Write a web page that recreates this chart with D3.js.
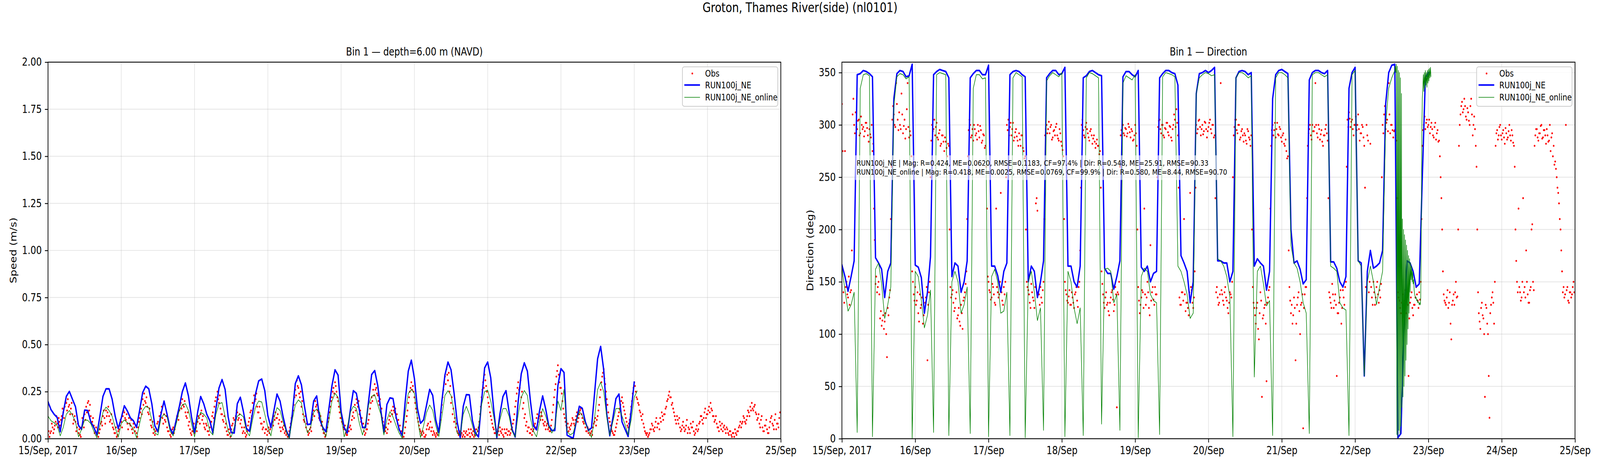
<!DOCTYPE html>
<html>
<head>
<meta charset="utf-8">
<script src="https://cdn.jsdelivr.net/npm/d3@7"></script>
<style>
html, body { margin: 0; padding: 0; background: #fff; overflow: hidden; }
svg { display: block; width: 100vw; height: 100vh; }
text { font-family: "DejaVu Sans", sans-serif; }
</style>
</head>
<body>
<svg id="chart"></svg>
<script>
var figTitle = "Groton, Thames River(side) (nl0101)";
var speedTitle = "Bin 1 \u2014 depth=6.00 m (NAVD)";
var dirTitle = "Bin 1 \u2014 Direction";
var seriesNames = ["Obs", "RUN100j_NE", "RUN100j_NE_online"];
var dayLabels = ["15/Sep, 2017", "16/Sep", "17/Sep", "18/Sep", "19/Sep", "20/Sep",
                 "21/Sep", "22/Sep", "23/Sep", "24/Sep", "25/Sep"];
var speedTicks = [0, 0.25, 0.5, 0.75, 1, 1.25, 1.5, 1.75, 2];
var dirTicks = [0, 50, 100, 150, 200, 250, 300, 350];
var statLines = [
  "RUN100j_NE | Mag: R=0.424, ME=0.0620, RMSE=0.1183, CF=97.4% | Dir: R=0.548, ME=25.91, RMSE=90.33",
  "RUN100j_NE_online | Mag: R=0.418, ME=0.0025, RMSE=0.0769, CF=99.9% | Dir: R=0.580, ME=8.44, RMSE=90.70"
];

// model speed, hourly from 15/Sep 00:00 (m/s)
var neSpeed = [
  .196,.154,.130,.113,.037,.140,.225,.251,.210,.170,
  .070,.050,.152,.150,.090,.060,.022,.120,.225,.265,
  .265,.210,.120,.054,.110,.175,.147,.110,.095,.060,
  .150,.245,.279,.265,.186,.068,.037,.130,.200,.130,
  .054,.026,.100,.170,.250,.296,.227,.116,.033,.140,
  .224,.186,.130,.095,.030,.160,.269,.314,.262,.116,
  .033,.030,.186,.220,.144,.054,.040,.137,.240,.307,
  .317,.255,.123,.060,.150,.237,.200,.116,.047,.006,
  .130,.293,.334,.286,.172,.075,.078,.200,.227,.102,
  .060,.037,.160,.282,.366,.338,.144,.060,.030,.150,
  .255,.241,.150,.060,.060,.200,.341,.362,.282,.151,
  .033,.182,.217,.213,.116,.050,.016,.200,.359,.417,
  .320,.160,.082,.100,.180,.262,.230,.100,.033,.200,
  .338,.407,.366,.241,.090,.006,.172,.234,.233,.096,
  .030,.009,.200,.376,.407,.324,.150,.006,.130,.224,
  .255,.144,.050,.009,.200,.345,.403,.359,.200,.068,
  .047,.150,.227,.158,.070,.044,.044,.282,.372,.352,
  .019,.010,.002,.090,.172,.161,.089,.044,.057,.240,
  .424,.490,.366,.130,.016,.110,.213,.237,.089,.050,
  .012,.150,.300
];
var onlineSpeed = [
  .120,.095,.085,.070,.015,.060,.130,.150,.125,.090,
  .010,.050,.100,.098,.080,.040,.005,.070,.140,.168,
  .150,.120,.060,.008,.080,.100,.085,.075,.050,.005,
  .080,.150,.172,.165,.100,.030,.020,.110,.130,.116,
  .040,.015,.080,.150,.180,.186,.150,.080,.010,.100,
  .140,.130,.110,.040,.020,.130,.185,.192,.120,.040,
  .010,.060,.120,.130,.116,.040,.015,.100,.170,.200,
  .195,.130,.060,.015,.110,.165,.150,.090,.040,.003,
  .100,.180,.206,.190,.100,.030,.060,.140,.158,.140,
  .050,.010,.100,.200,.241,.220,.120,.010,.060,.140,
  .172,.160,.080,.020,.080,.180,.225,.234,.180,.130,
  .020,.100,.144,.115,.070,.030,.003,.140,.240,.262,
  .241,.110,.006,.068,.140,.179,.151,.070,.012,.120,
  .230,.255,.230,.144,.030,.020,.130,.172,.130,.070,
  .012,.060,.180,.250,.258,.200,.116,.010,.100,.160,
  .160,.120,.040,.010,.130,.220,.256,.230,.110,.040,
  .010,.090,.160,.120,.068,.030,.060,.200,.150,.262,
  .040,.020,.030,.090,.144,.123,.080,.047,.006,.110,
  .260,.300,.250,.116,.019,.090,.160,.160,.120,.075,
  .020,.100,.220,.255
];
// observed speed, every 15 min from 15/Sep 00:00, two rows per day
var obsSpeed = [
  .02,.04,.01,.03,.04,.08,.06,.03,.05,.07,.09,.12,.08,.06,.11,.09,.07,.10,.12,.16,.14,.11,.17,.20,.19,.15,.21,.17,.18,.13,.16,.19,.13,.08,.10,.12,.09,.04,.06,.08,.03,.05,.02,.01,.06,.11,.09,.06,
  .13,.10,.17,.14,.19,.20,.15,.18,.12,.08,.09,.11,.07,.03,.04,.06,.02,.05,.01,.03,.05,.08,.09,.07,.12,.15,.11,.08,.15,.12,.14,.17,.12,.09,.10,.13,.08,.06,.05,.03,.03,.06,.01,.02,.04,.05,.07,.10,
  .09,.06,.12,.15,.14,.11,.10,.13,.08,.05,.11,.08,.07,.10,.05,.03,.08,.06,.04,.07,.03,.01,.06,.09,.11,.14,.16,.13,.21,.18,.24,.20,.19,.22,.17,.14,.13,.16,.10,.07,.06,.09,.03,.05,.02,.04,.05,.08,
  .09,.06,.12,.10,.14,.17,.11,.08,.13,.10,.09,.12,.06,.04,.04,.07,.02,.01,.03,.05,.06,.03,.05,.08,.09,.12,.12,.10,.15,.18,.19,.16,.21,.18,.17,.20,.14,.12,.11,.14,.07,.09,.05,.03,.02,.04,.04,.08,
  .03,.05,.06,.04,.09,.12,.11,.08,.13,.15,.10,.12,.08,.06,.05,.08,.07,.04,.04,.02,.06,.08,.09,.12,.14,.11,.17,.20,.22,.18,.25,.21,.19,.23,.16,.13,.13,.10,.09,.12,.06,.08,.04,.02,.02,.05,.03,.01,
  .05,.07,.08,.11,.10,.07,.12,.15,.14,.10,.11,.13,.08,.10,.06,.03,.04,.06,.03,.01,.02,.04,.07,.09,.11,.14,.15,.12,.19,.16,.23,.20,.21,.24,.17,.14,.14,.17,.11,.08,.08,.05,.06,.09,.03,.05,.05,.02,
  .04,.06,.03,.05,.06,.08,.09,.07,.12,.10,.14,.11,.11,.13,.08,.10,.06,.04,.09,.06,.05,.07,.03,.04,.02,.03,.01,.02,.04,.06,.08,.11,.12,.15,.18,.22,.26,.23,.31,.28,.27,.24,.22,.25,.17,.20,.13,.10,
  .09,.12,.06,.08,.04,.02,.03,.05,.06,.04,.10,.13,.15,.12,.20,.17,.18,.15,.14,.11,.10,.12,.07,.09,.05,.03,.03,.01,.02,.04,.06,.09,.11,.14,.17,.20,.22,.25,.27,.24,.30,.28,.25,.22,.20,.17,.14,.11,
  .11,.09,.08,.06,.05,.07,.03,.02,.02,.04,.04,.06,.07,.05,.10,.12,.14,.11,.18,.15,.21,.19,.17,.20,.13,.15,.09,.11,.06,.08,.04,.02,.03,.05,.05,.08,.10,.13,.16,.19,.22,.20,.26,.23,.29,.26,.27,.24,
  .23,.20,.18,.21,.14,.16,.11,.09,.07,.05,.04,.06,.03,.05,.08,.10,.12,.09,.15,.13,.17,.15,.14,.16,.11,.13,.08,.10,.05,.07,.03,.04,.02,.01,.01,.03,.06,.09,.12,.15,.19,.22,.25,.27,.30,.26,.28,.25,
  .22,.19,.16,.14,.11,.09,.07,.05,.04,.03,.02,.04,.03,.01,.01,.02,.05,.07,.08,.05,.06,.09,.04,.06,.02,.04,.03,.02,.01,.03,.02,.04,.05,.08,.10,.14,.18,.22,.26,.30,.33,.29,.37,.34,.31,.35,.25,.28,
  .19,.22,.13,.16,.09,.11,.06,.08,.04,.03,.02,.04,.01,.02,.03,.01,.02,.04,.01,.03,.04,.02,.02,.05,.03,.01,.05,.03,.02,.04,.01,.02,.03,.05,.02,.04,.06,.09,.13,.17,.22,.26,.30,.27,.34,.31,.28,.25,
  .22,.19,.17,.14,.12,.10,.08,.06,.05,.03,.03,.05,.02,.04,.04,.02,.06,.04,.03,.05,.02,.01,.05,.03,.03,.05,.02,.04,.04,.02,.03,.05,.06,.08,.10,.13,.17,.20,.24,.27,.30,.26,.27,.31,.22,.25,.16,.19,
  .11,.13,.07,.09,.04,.06,.06,.03,.03,.05,.02,.04,.05,.07,.08,.06,.11,.13,.09,.11,.12,.10,.14,.12,.10,.08,.07,.09,.05,.07,.08,.05,.06,.04,.04,.07,.10,.14,.18,.22,.26,.29,.33,.36,.39,.34,.30,.27,
  .27,.24,.20,.16,.13,.11,.09,.07,.06,.08,.04,.06,.05,.07,.08,.11,.10,.08,.07,.10,.12,.14,.09,.11,.13,.15,.16,.13,.11,.09,.08,.10,.06,.04,.04,.06,.03,.05,.02,.03,.04,.02,.06,.08,.09,.11,.07,.10,
  .12,.15,.18,.22,.26,.30,.33,.35,.37,.32,.29,.25,.21,.18,.14,.11,.09,.07,.05,.04,.03,.02,.02,.04,.06,.08,.10,.12,.14,.16,.18,.20,.22,.19,.17,.15,.13,.11,.09,.07,.06,.08,.10,.13,.17,.20,.24,.27,
  .30,.28,.25,.22,.21,.19,.18,.15,.14,.12,.10,.13,.08,.06,.04,.03,.02,.03,.01,.02,.03,.05,.05,.08,.07,.05,.04,.06,.09,.11,.06,.08,.08,.05,.11,.09,.14,.12,.10,.13,.13,.16,.17,.20,.21,.23,.25,.22,
  .22,.18,.19,.16,.14,.12,.10,.08,.12,.10,.08,.11,.06,.04,.05,.07,.09,.06,.04,.05,.07,.10,.03,.06,.05,.03,.08,.06,.06,.09,.04,.02,.03,.05,.07,.04,.05,.08,.09,.12,.12,.10,.08,.11,.14,.16,.11,.13,
  .13,.15,.17,.14,.19,.16,.15,.12,.12,.09,.10,.12,.08,.06,.06,.04,.09,.07,.05,.08,.04,.06,.07,.05,.03,.06,.05,.03,.02,.04,.04,.02,.01,.03,.03,.01,.05,.03,.02,.04,.04,.06,.07,.09,.06,.08,.09,.12,
  .11,.09,.08,.10,.12,.15,.14,.12,.17,.15,.19,.16,.15,.17,.18,.14,.13,.10,.11,.13,.08,.06,.10,.12,.06,.04,.04,.07,.07,.10,.05,.03,.03,.06,.09,.11,.12,.08,.07,.05,.10,.13,.05,.08,.08,.06,.11,.14
];

// model direction, hourly (deg)
var neDir = [
  166,155,141,155,170,348,349,352,351,349,
  346,173,168,162,135,160,168,325,349,352,
  351,346,347,358,166,164,154,120,140,174,
  348,351,353,352,351,345,155,168,165,140,
  150,170,345,349,352,352,348,348,357,165,
  165,156,140,160,168,348,351,352,351,348,
  346,150,165,160,135,150,170,345,349,352,
  352,348,349,355,165,165,150,145,165,345,
  347,351,352,350,348,347,163,158,158,143,
  155,170,346,351,351,348,346,352,164,160,
  165,150,158,160,345,349,352,352,350,349,
  338,175,168,160,130,150,330,349,350,352,
  350,352,355,170,170,168,168,150,160,345,
  351,352,351,348,350,165,172,168,165,142,
  160,325,348,352,353,351,349,200,168,170,
  162,148,152,343,350,352,352,350,349,352,
  169,169,163,150,145,155,335,350,355,170,
  168,60,160,180,163,165,168,180,320,350,
  357,358,1,5,110,170,168,160,145,148,
  250,345,350
];
var onlineDir = [
  163,142,122,128,140,6,335,348,349,347,
  2,162,168,148,115,128,145,318,346,349,
  348,344,346,0,160,155,132,106,118,142,
  6,348,350,349,348,3,150,160,150,120,
  128,145,5,335,348,348,344,345,2,155,
  162,150,120,122,140,3,345,350,348,346,
  1,150,160,140,113,125,8,342,347,350,
  348,346,350,2,160,150,125,110,125,3,
  345,350,349,347,345,14,162,163,160,130,
  138,8,340,347,345,343,348,1,155,163,
  160,138,132,130,4,346,350,349,348,346,
  165,160,150,138,115,120,330,345,348,350,
  349,347,348,172,170,165,155,135,2,345,
  350,350,348,345,347,59,160,165,148,127,
  132,3,345,350,350,348,345,185,168,163,
  150,130,120,5,348,350,350,348,346,348,
  165,163,160,130,125,123,3,348,352,170,
  165,60,150,165,150,128,145,160,300,335,
  345,352
];
// online direction at 10 min steps from 22/Sep 13:10 (the noisy end of the run)
var onlineDirFast = [
  356,350,358,4,356,2,352,8,350,5,345,12,330,30,210,40,200,50,195,60,190,75,185,90,
  180,105,175,120,172,140,168,152,165,150,160,148,152,142,
  138,136,134,135,132,133,130,131,130,128,130,128,135,200,290,325,
  335,348,332,350,335,352,338,350,336,352,340,353,342,354,345,355,346
];
// observed direction, every 15 min, two rows per day
var obsDir = [
  320,275,140,130,275,145,150,138,135,155,128,140,142,180,310,325,300,292,312,298,296,304,305,290,292,308,300,296,298,289,294,302,302,297,290,284,296,291,288,300,275,282,220,190,148,155,140,145,
  150,138,115,122,108,113,118,105,112,120,100,78,125,118,135,142,210,260,305,318,310,300,298,340,320,305,295,312,300,296,330,310,292,299,305,287,296,315,340,298,288,294,290,270,160,150,138,132,
  145,128,132,140,120,112,138,125,128,135,110,118,122,130,135,145,75,128,140,150,250,285,300,294,296,305,290,298,302,288,286,292,295,280,282,290,290,284,275,288,284,278,270,282,280,200,145,135,
  138,142,130,122,125,134,140,115,118,125,112,108,128,120,105,132,135,140,148,160,210,270,295,305,300,288,290,296,285,300,296,290,292,286,300,294,288,299,295,283,285,291,290,278,280,260,220,155,
  150,142,140,133,135,148,145,138,130,128,220,145,140,135,138,150,235,140,132,128,145,138,150,250,300,295,305,290,298,302,290,296,302,285,288,293,296,289,285,280,292,286,280,290,290,278,275,268,
  270,200,150,145,142,138,130,125,148,140,135,132,125,145,225,230,218,140,138,128,145,135,130,142,150,210,290,296,300,292,296,303,292,298,300,286,288,294,295,290,298,301,290,287,285,296,292,284,
  280,276,270,210,150,142,138,132,130,136,142,128,128,140,135,130,125,138,140,145,132,126,145,150,180,240,300,305,295,290,288,298,302,296,292,288,285,294,296,290,282,287,290,284,278,282,286,280,
  280,272,275,240,160,148,138,130,125,135,140,128,130,122,118,130,135,140,142,133,122,128,145,138,30,140,138,150,260,290,295,300,300,292,290,297,296,289,292,301,298,293,288,296,294,285,286,290,
  300,292,280,200,145,132,120,128,135,142,140,125,220,138,128,135,150,140,125,118,185,132,140,145,133,128,145,138,138,250,298,304,305,296,292,300,300,290,288,297,296,302,302,293,290,299,298,288,
  285,296,300,310,305,298,315,302,290,240,135,128,128,140,140,132,210,138,122,130,130,125,118,140,235,145,142,130,125,135,160,240,300,292,296,304,305,298,290,296,300,291,294,303,302,296,288,294,
  298,302,305,296,292,300,300,288,290,230,140,145,135,128,130,138,340,142,138,132,128,140,145,135,132,125,120,130,140,138,135,150,250,290,298,305,305,295,292,300,300,286,288,294,296,290,284,292,
  290,285,282,296,294,288,286,280,290,200,145,130,125,118,110,125,130,105,95,120,140,132,40,115,118,125,128,110,55,130,135,142,145,220,280,295,300,290,295,302,288,296,302,291,290,298,296,288,
  284,290,292,282,280,286,275,268,270,180,145,132,120,128,110,118,135,125,75,110,128,135,140,122,100,128,130,138,10,125,138,145,145,230,280,292,296,300,290,286,300,294,294,298,340,300,292,288,
  300,296,286,291,295,284,280,290,290,296,300,292,285,230,140,135,130,125,148,138,125,132,138,128,60,120,120,130,135,142,110,125,142,135,128,145,150,260,305,298,312,306,298,303,305,296,290,300,
  300,308,295,300,310,296,285,292,292,300,298,288,280,240,145,300,290,285,140,150,282,145,135,128,150,140,128,135,145,150,138,130,142,135,148,250,300,292,310,318,296,302,305,294,340,310,292,300,
  300,295,288,294,295,290,285,230,140,135,132,125,120,130,138,128,125,132,142,120,135,128,60,115,130,135,140,125,118,128,128,135,145,138,132,125,140,133,150,210,280,295,300,308,296,302,305,298,
  300,305,292,298,302,296,290,288,298,302,286,292,295,284,285,270,250,230,200,160,138,132,130,128,135,142,125,130,140,110,95,128,132,138,128,140,150,135,136,200,280,300,310,318,322,312,315,325,
  318,308,305,316,312,304,300,318,325,310,290,300,308,296,280,260,200,140,120,112,105,125,130,118,115,100,40,128,125,110,100,60,20,120,128,135,140,130,110,150,280,292,295,286,290,298,300,290,
  286,292,295,288,282,297,292,286,288,294,300,290,285,295,290,283,280,260,200,170,150,140,220,145,140,132,135,150,230,140,145,135,180,150,138,130,130,142,145,200,205,150,142,280,290,296,296,288,
  285,292,292,299,300,287,288,295,295,290,282,296,290,284,285,300,275,288,292,270,280,262,265,258,250,240,235,225,210,200,180,160,140,145,135,138,300,142,145,132,130,140,140,135,138,145,150,140
];

var t0 = Date.UTC(2017, 8, 15);
var hourMs = 3600000;
var dayTicks = dayLabels.map(function(s, i) { return new Date(t0 + i * 24 * hourMs); });

function toPoints(values, startHour, stepHours) {
  return values.map(function(v, i) {
    return { t: new Date(t0 + (startHour + i * stepHours) * hourMs), v: v };
  });
}

var fontSize = 27.8;
// drawn in a 5000x1200 frame, stretched to fill the window
var svg = d3.select("#chart")
  .attr("viewBox", "0 0 5000 1200")
  .attr("preserveAspectRatio", "none");
svg.append("rect").attr("width", 5000).attr("height", 1200).attr("fill", "#fff");
svg.append("text")
  .attr("x", 2500).attr("y", 31)
  .attr("text-anchor", "middle")
  .attr("font-size", 33.3)
  .text(figTitle);

var drawPanel = function(p)
{
  var w = p.x1 - p.x0;
  var h = p.y1 - p.y0;
  var g = svg.append("g").attr("transform", "translate(" + p.x0 + "," + p.y0 + ")");

  var x = d3.scaleUtc()
    .domain([dayTicks[0], dayTicks[dayTicks.length - 1]])
    .range([0, w]);
  var y = d3.scaleLinear().domain(p.yDomain).range([h, 0]);

  g.append("clipPath").attr("id", p.id)
    .append("rect").attr("width", w).attr("height", h);

  //grid
  var grid = g.append("g")
    .attr("stroke", "#b0b0b0").attr("stroke-opacity", 0.3).attr("stroke-width", 2.2);
  grid.selectAll(".vx").data(dayTicks).join("line").attr("class", "vx")
    .attr("x1", function(d) { return x(d); }).attr("x2", function(d) { return x(d); })
    .attr("y1", 0).attr("y2", h);
  grid.selectAll(".hy").data(p.yTicks).join("line").attr("class", "hy")
    .attr("x1", 0).attr("x2", w)
    .attr("y1", function(d) { return y(d); }).attr("y2", function(d) { return y(d); });

  var plot = g.append("g").attr("clip-path", "url(#" + p.id + ")");
  plot.append("g").selectAll("circle").data(p.obs).join("circle")
    .attr("cx", function(d) { return x(d.t); })
    .attr("cy", function(d) { return y(d.v); })
    .attr("r", 2.6)
    .attr("fill", "#ff0000");

  var line = d3.line()
    .x(function(d) { return x(d.t); })
    .y(function(d) { return y(d.v); });
  plot.append("path").datum(p.ne)
    .attr("d", line).attr("fill", "none")
    .attr("stroke", "#0000ff").attr("stroke-width", 4.2)
    .attr("stroke-linejoin", "round").attr("stroke-linecap", "square");
  plot.append("path").datum(p.online)
    .attr("d", line).attr("fill", "none")
    .attr("stroke", "#008000").attr("stroke-width", 1.7)
    .attr("stroke-linejoin", "round");

  //stats box
  if (p.stats)
  {
    var sg = g.append("g");
    var st = sg.append("g");
    p.stats.forEach(function(s, i) {
      st.append("text")
        .attr("x", 46).attr("y", 265 + i * 23)
        .attr("font-size", 20)
        .text(s);
    });
    var bb = st.node().getBBox();
    sg.insert("rect", ":first-child")
      .attr("x", bb.x - 5).attr("y", bb.y - 8)
      .attr("width", bb.width + 10).attr("height", bb.height + 16)
      .attr("fill", "#fff").attr("fill-opacity", 0.6);
  }

  //axes
  var xAxis = d3.axisBottom(x)
    .tickValues(dayTicks)
    .tickFormat(function(d, i) { return dayLabels[i]; })
    .tickSize(9.7).tickPadding(9.7);
  var xg = g.append("g").attr("transform", "translate(0," + h + ")").call(xAxis);
  var yAxis = d3.axisLeft(y)
    .tickValues(p.yTicks)
    .tickFormat(p.yFormat)
    .tickSize(9.7).tickPadding(9.7);
  var yg = g.append("g").call(yAxis);
  [xg, yg].forEach(function(a) {
    a.select(".domain").remove();
    a.attr("font-size", fontSize).attr("font-family", "DejaVu Sans");
    a.selectAll("line").attr("stroke", "#000").attr("stroke-width", 2.2);
    a.selectAll("text").attr("fill", "#000");
  });

  g.append("rect")
    .attr("width", w).attr("height", h)
    .attr("fill", "none").attr("stroke", "#000").attr("stroke-width", 2.2);

  g.append("text")
    .attr("x", w / 2).attr("y", -17)
    .attr("text-anchor", "middle").attr("font-size", fontSize)
    .text(p.title);
  g.append("text")
    .attr("transform", "translate(" + p.labelX + "," + (h / 2) + ") rotate(-90)")
    .attr("text-anchor", "middle").attr("font-size", fontSize)
    .text(p.yLabel);

  //legend
  var lx = w - 9.5 - 298;
  var lg = g.append("g").attr("transform", "translate(" + lx + ",12)");
  lg.append("rect")
    .attr("width", 298).attr("height", 101).attr("rx", 6)
    .attr("fill", "#fff").attr("fill-opacity", 0.8)
    .attr("stroke", "#cccccc").attr("stroke-width", 2.2);
  var rows = [17, 46.5, 78];
  lg.append("circle").attr("cx", 31).attr("cy", rows[0]).attr("r", 2.6).attr("fill", "#ff0000");
  lg.append("line").attr("x1", 6).attr("x2", 55).attr("y1", rows[1]).attr("y2", rows[1])
    .attr("stroke", "#0000ff").attr("stroke-width", 4.2);
  lg.append("line").attr("x1", 6).attr("x2", 55).attr("y1", rows[2]).attr("y2", rows[2])
    .attr("stroke", "#008000").attr("stroke-width", 1.7);
  seriesNames.forEach(function(s, i) {
    lg.append("text")
      .attr("x", 71).attr("y", rows[i] + 8.4)
      .attr("font-size", 23.1)
      .text(s);
  });
};

drawPanel({
  id: "clipSpeed", x0: 150, x1: 2440, y0: 159, y1: 1122.5,
  yDomain: [0, 2], yTicks: speedTicks, yFormat: d3.format(".2f"),
  yLabel: "Speed (m/s)", labelX: -99, title: speedTitle,
  obs: toPoints(obsSpeed, 0, 0.25),
  ne: toPoints(neSpeed, 0, 1),
  online: toPoints(onlineSpeed, 0, 1)
});

drawPanel({
  id: "clipDir", x0: 2631, x1: 4922, y0: 159, y1: 1122.5,
  yDomain: [0, 360], yTicks: dirTicks, yFormat: d3.format("d"),
  yLabel: "Direction (deg)", labelX: -90, title: dirTitle,
  obs: toPoints(obsDir, 0, 0.25),
  ne: toPoints(neDir, 0, 1),
  online: toPoints(onlineDir, 0, 1).concat(toPoints(onlineDirFast, 181 + 1 / 6, 1 / 6)),
  stats: statLines
});
</script>
</body>
</html>
